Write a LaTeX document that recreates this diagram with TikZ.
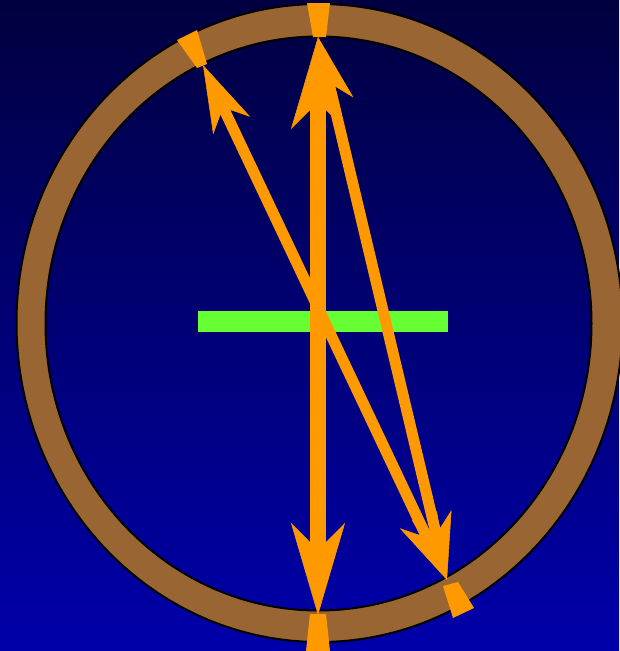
\documentclass[tikz,border=0pt]{standalone}
\usetikzlibrary{arrows.meta}
\definecolor{ringbrown}{HTML}{996633}
\definecolor{rayorange}{HTML}{FF9900}
\definecolor{mirrorgreen}{HTML}{66FF33}
\definecolor{bgtop}{RGB}{0,0,64}
\definecolor{bgbot}{RGB}{0,0,170}
\begin{document}
\begin{tikzpicture}[x=1pt,y=-1pt,
  bighead/.tip={Stealth[length=92pt,width=54pt,inset=27pt,line width=0.5pt]},
  smallhead/.tip={Stealth[length=67pt,width=41pt,inset=20pt,line width=0.5pt]},
  bigray/.style={draw=rayorange, fill=rayorange, line width=16pt, bighead-bighead},
  smallray/.style={draw=rayorange, fill=rayorange, line width=11pt, smallhead-smallhead},
  marker/.style={fill=rayorange},
  ringline/.style={draw=black, line width=2pt},
  mirror/.style={fill=mirrorgreen, inner sep=0pt, minimum width=250pt, minimum height=21pt}
]
\useasboundingbox (0,0) rectangle (619,651);
\shade[top color=bgtop, bottom color=bgbot] (0,0) rectangle (619,651);
% ring
\fill[ringbrown, even odd rule] (319.5,323) ellipse [x radius=303, y radius=319]
  (318.5,323.5) ellipse [x radius=273, y radius=287];
\draw[ringline] (319.5,323) ellipse [x radius=303, y radius=319];
\draw[ringline] (318.5,323.5) ellipse [x radius=273, y radius=287];
% mirror
\node[mirror] (M) at (323,321.5) {};
% markers on the ring
\fill[marker] (307,3) -- (330,3) -- (326,37) -- (313,37) -- cycle;
\fill[marker] (306,651) -- (330,651) -- (326,614) -- (310,614) -- cycle;
\fill[marker] (177,40) -- (197,30) -- (207,64) -- (197,68) -- cycle;
\fill[marker] (443,586) -- (458,582) -- (474,608) -- (453,618) -- cycle;
% ray end points
\coordinate (B) at (318,615);
\coordinate (T) at (318,37);
\coordinate (TL) at (203,65);
\coordinate (BR) at (447,580);
% rays
\draw[smallray] (BR) -- (TL);
\draw[smallray] (T) -- (BR);
\draw[bigray] (B) -- (T);
\end{tikzpicture}
\end{document}
